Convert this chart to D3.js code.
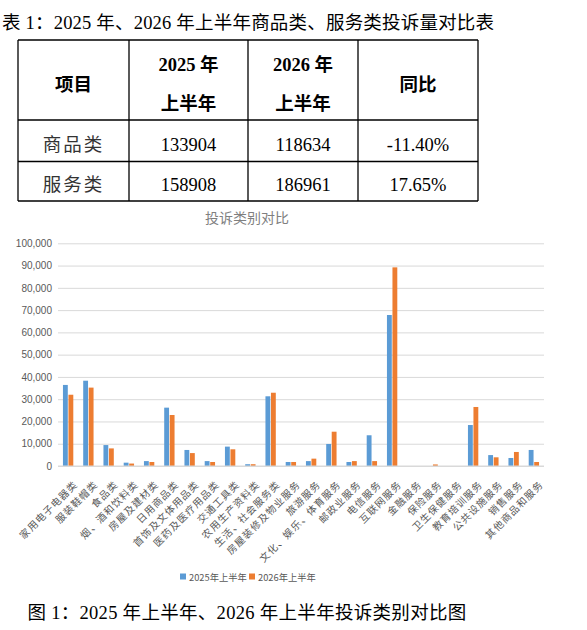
<!DOCTYPE html>
<html>
<head>
<meta charset="utf-8">
<script src="https://cdn.jsdelivr.net/npm/d3@7"></script>
<style>
  body { margin: 0; background: #fff; }
  svg { display: block; }
</style>
</head>
<body>
<div id="chart"></div>
<script>
// table data
const tableTitle = "表 1：2025 年、2026 年上半年商品类、服务类投诉量对比表";
const tableHead = [["项目"], ["2025 年", "上半年"], ["2026 年", "上半年"], ["同比"]];
const rowNames = ["商品类", "服务类"];
const h1Values = ["133904", "158908"];
const h2Values = ["118634", "186961"];
const yoyValues = ["-11.40%", "17.65%"];

// chart data
const chartTitle = "投诉类别对比";
const categories = ["家用电子电器类", "服装鞋帽类", "食品类", "烟、酒和饮料类", "房屋及建材类", "日用商品类",
  "首饰及文体用品类", "医药及医疗用品类", "交通工具类", "农用生产资料类", "生活、社会服务类", "房屋装修及物业服务",
  "旅游服务", "文化、娱乐、体育服务", "邮政业服务", "电信服务", "互联网服务", "金融服务", "保险服务",
  "卫生保健服务", "教育培训服务", "公共设施服务", "销售服务", "其他商品和服务"];
const series = ["2025年上半年", "2026年上半年"];
const values2025 = [36400, 38300, 9400, 1500, 2200, 26200, 7200, 2200, 8700, 800, 31300, 1800,
  2200, 9900, 1800, 13800, 67800, 0, 0, 0, 18400, 4900, 3600, 7200];
const values2026 = [32000, 35200, 7900, 1100, 1800, 22900, 5800, 1800, 7500, 800, 32900, 1800,
  3300, 15400, 2200, 2200, 89200, 0, 700, 0, 26500, 3900, 6300, 1800];
const yTicks = [0, 10000, 20000, 30000, 40000, 50000, 60000, 70000, 80000, 90000, 100000];
const caption = "图 1：2025 年上半年、2026 年上半年投诉类别对比图";

const colors = ["#5b9bd5", "#ed7d31"];
const serif = "'Liberation Serif', 'Noto Sans CJK SC', serif";
const sans = "'Noto Sans CJK SC', sans-serif";

const W = 587, H = 630;
const svg = d3.select("#chart").append("svg")
  .attr("width", W).attr("height", H);

// ---- table ----
svg.append("text")
  .attr("x", 2).attr("y", 29)
  .text(tableTitle)
  .style("font-family", serif)
  .style("font-size", "18.5px")
  .style("letter-spacing", "0.2px")
  .style("fill", "#000");

const colX = [18, 129, 248, 358, 478];
const rowY = [40, 120, 161.5, 201];

const tbl = svg.append("g");
rowY.forEach(y => {
  tbl.append("line").attr("x1", colX[0]).attr("x2", colX[4]).attr("y1", y).attr("y2", y)
    .attr("stroke", "#000").attr("stroke-width", 1.3);
});
colX.forEach(x => {
  tbl.append("line").attr("x1", x).attr("x2", x).attr("y1", rowY[0]).attr("y2", rowY[3])
    .attr("stroke", "#000").attr("stroke-width", 1.3);
});

tableHead.forEach((lines, i) => {
  const cx = (colX[i] + colX[i + 1]) / 2;
  const t = tbl.append("text")
    .attr("text-anchor", "middle")
    .style("font-family", serif)
    .style("font-size", "18.5px")
    .style("font-weight", "bold");
  if (lines.length == 1) {
    t.append("tspan").attr("x", cx).attr("y", 85).attr("dominant-baseline", "central").text(lines[0]);
  } else {
    t.append("tspan").attr("x", cx).attr("y", 65).attr("dominant-baseline", "central").text(lines[0]);
    t.append("tspan").attr("x", cx).attr("y", 104).attr("dominant-baseline", "central").text(lines[1]);
  }
});

const rowCenters = [145, 185];
rowNames.forEach((name, r) => {
  const cells = [name, h1Values[r], h2Values[r], yoyValues[r]];
  cells.forEach((c, i) => {
    tbl.append("text")
      .attr("x", (colX[i] + colX[i + 1]) / 2)
      .attr("y", rowCenters[r])
      .attr("text-anchor", "middle")
      .attr("dominant-baseline", "central")
      .text(c)
      .style("font-family", serif)
      .style("font-size", "18.5px")
      .style("letter-spacing", i == 0 ? "2px" : "0px")
      .style("fill", i == 0 ? "#333" : "#000");
  });
});

// ---- bar chart ----
const plot = { left: 58, right: 544, top: 243.3, bottom: 466 };

svg.append("text")
  .attr("x", 247).attr("y", 217)
  .attr("text-anchor", "middle")
  .attr("dominant-baseline", "central")
  .text(chartTitle)
  .style("font-family", sans)
  .style("font-size", "14px")
  .style("fill", "#7f7f7f");

const x0 = d3.scaleBand().domain(categories).range([plot.left, plot.right]).padding(0);
const x1 = d3.scaleBand().domain(series).range([0, x0.bandwidth()])
  .paddingInner(0.12).paddingOuter(0.9);
const y = d3.scaleLinear().domain([0, 100000]).range([plot.bottom, plot.top]);

// gridlines + y labels
const yAxis = svg.append("g")
  .attr("transform", `translate(${plot.left},0)`)
  .call(d3.axisLeft(y).tickValues(yTicks).tickFormat(d3.format(","))
    .tickSize(-(plot.right - plot.left)).tickPadding(6));
yAxis.select(".domain").remove();
yAxis.selectAll(".tick line").attr("stroke", "#d9d9d9").attr("stroke-width", 1);
yAxis.selectAll(".tick text")
  .style("font-family", "'Liberation Sans', sans-serif")
  .style("font-size", "10px")
  .style("fill", "#595959");

// bars
const rows = categories.map((c, i) => ({ cat: c, vals: [values2025[i], values2026[i]] }));
const groups = svg.append("g").selectAll("g")
  .data(rows).join("g")
  .attr("transform", d => `translate(${x0(d.cat)},0)`);
groups.selectAll("rect")
  .data(d => d.vals.map((v, k) => ({ s: series[k], v: v, k: k })))
  .join("rect")
  .attr("x", d => x1(d.s))
  .attr("width", x1.bandwidth())
  .attr("y", d => y(d.v))
  .attr("height", d => y(0) - y(d.v))
  .attr("fill", d => colors[d.k]);

// x axis line
svg.append("line")
  .attr("x1", plot.left).attr("x2", plot.right)
  .attr("y1", y(0)).attr("y2", y(0))
  .attr("stroke", "#d9d9d9").attr("stroke-width", 1);

// category labels
svg.append("g").selectAll("text")
  .data(categories).join("text")
  .attr("transform", d => `translate(${x0(d) + x0.bandwidth() / 2 + 7},${plot.bottom + 16}) rotate(-45)`)
  .attr("text-anchor", "end")
  .attr("dominant-baseline", "central")
  .text(d => d)
  .style("font-family", sans)
  .style("font-size", "10px")
  .style("letter-spacing", "1px")
  .style("fill", "#595959");

// legend
const legend = svg.append("g").attr("transform", "translate(180,577)");
const legX = [0, 69];
series.forEach((s, k) => {
  legend.append("rect").attr("x", legX[k]).attr("y", -3.5).attr("width", 6).attr("height", 6)
    .attr("fill", colors[k]);
  legend.append("text").attr("x", legX[k] + 9).attr("y", 0)
    .attr("dominant-baseline", "central")
    .text(s)
    .style("font-family", sans)
    .style("font-size", "9.3px")
    .style("fill", "#595959");
});

// caption
svg.append("text")
  .attr("x", 247).attr("y", 613)
  .attr("text-anchor", "middle")
  .attr("dominant-baseline", "central")
  .text(caption)
  .style("font-family", serif)
  .style("font-size", "18.5px")
  .style("letter-spacing", "0.3px")
  .style("fill", "#000");
</script>
</body>
</html>
